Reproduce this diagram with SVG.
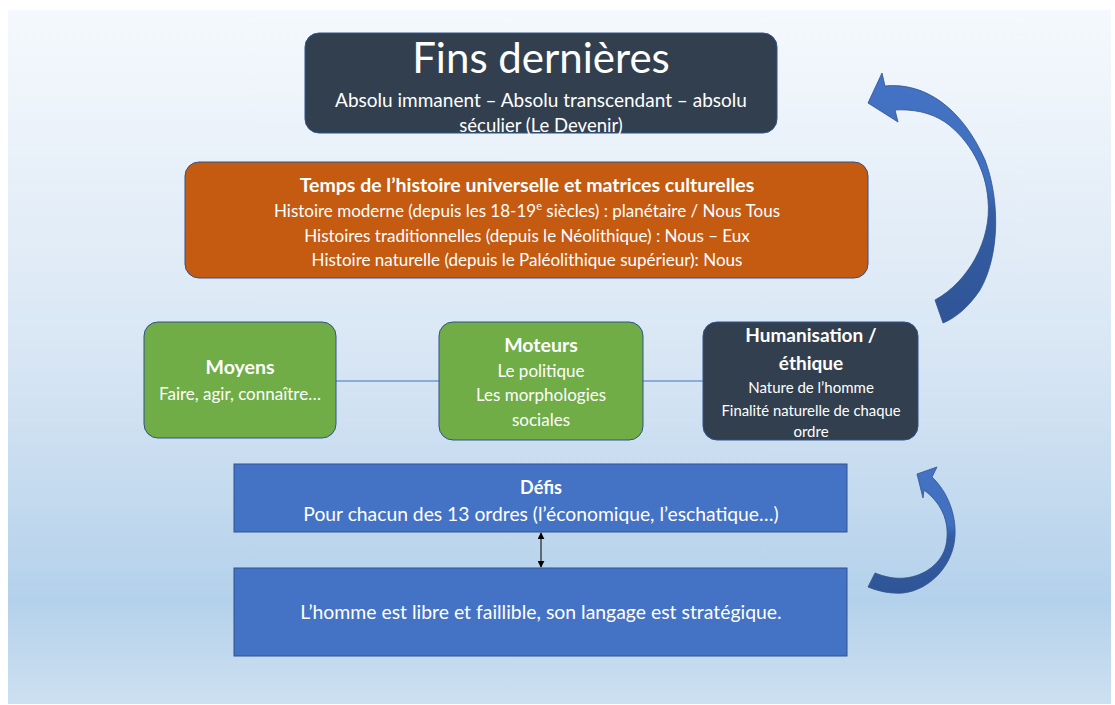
<svg xmlns="http://www.w3.org/2000/svg" width="1115" height="705" viewBox="0 0 1115 705">
<defs>
<linearGradient id="bg" x1="0" y1="0" x2="0" y2="1">
<stop offset="0" stop-color="#f5f9fd"/>
<stop offset="0.5" stop-color="#d8e6f4"/>
<stop offset="0.85" stop-color="#b4d1eb"/>
<stop offset="1" stop-color="#cde0f1"/>
</linearGradient>
<linearGradient id="arr" x1="0" y1="0" x2="0" y2="1">
<stop offset="0" stop-color="#4472c4"/>
<stop offset="0.45" stop-color="#4070c0"/>
<stop offset="0.55" stop-color="#355da3"/>
<stop offset="1" stop-color="#2f5597"/>
</linearGradient>
<marker id="ah" viewBox="0 0 10 10" refX="9" refY="5" markerWidth="7" markerHeight="7" orient="auto-start-reverse" markerUnits="userSpaceOnUse">
<path d="M0,0 L10,5 L0,10 z" fill="#000"/>
</marker>
</defs>
<style>
text{font-family:Lato,"Liberation Sans",sans-serif;fill:#fff;text-anchor:middle}
.b{font-weight:bold}
.dark{fill:#323f4f;stroke:#2f528f;stroke-width:1}
.or{fill:#c55a11;stroke:#2f528f;stroke-width:1}
.gr{fill:#70ad47;stroke:#2f528f;stroke-width:1}
.bl{fill:#4472c4;stroke:#2f528f;stroke-width:1}
.ln{stroke:#4472c4;stroke-width:1.2;fill:none}
.ca{fill:url(#arr);stroke:#2f528f;stroke-width:0.8}
</style>
<rect x="8" y="10" width="1103" height="694" fill="url(#bg)"/>

<g id="connectors">
<line class="ln" x1="336" y1="381" x2="439" y2="381"/>
<line class="ln" x1="643" y1="381" x2="703" y2="381"/>
<line x1="541" y1="533" x2="541" y2="567" stroke="#000" stroke-width="1" marker-start="url(#ah)" marker-end="url(#ah)"/>
<path class="ca" d="M885,86 C925,82 962,108 985,160 C1000,200 1000,255 980,290 C968,308 955,318 943,323 L935,300 C968,282 992,240 988,200 C986,170 970,140 945,122 C930,112 912,109 895,110 L898,122 L868,103 L882,73 Z"/>
<path class="ca" d="M932,477 C948,492 956,515 955,535 C954,565 930,590 903,593 C890,594 878,591 868,587 L875,573 C885,577 895,579 905,578 C925,576 942,563 946,545 C950,525 944,505 924,490 L923,498 L917,474 L937,467 Z"/>
</g>

<g id="fins">
<rect class="dark" x="305" y="33" width="472" height="100" rx="14"/>
<text x="541" y="73" font-size="42">Fins dernières</text>
<text x="541" y="107" font-size="19">Absolu immanent – Absolu transcendant – absolu</text>
<text x="541" y="132" font-size="18.5">séculier (Le Devenir)</text>
</g>

<g id="temps">
<rect class="or" x="185" y="162" width="683" height="116" rx="14"/>
<text class="b" x="527" y="192" font-size="19.5">Temps de l’histoire universelle et matrices culturelles</text>
<text x="527" y="217" font-size="17">Histoire moderne (depuis les 18-19<tspan font-size="11" dy="-7">e</tspan><tspan dy="7"> siècles) : planétaire / Nous Tous</tspan></text>
<text x="527" y="242" font-size="17">Histoires traditionnelles (depuis le Néolithique) : Nous – Eux</text>
<text x="527" y="266" font-size="17">Histoire naturelle (depuis le Paléolithique supérieur): Nous</text>
</g>

<g id="moyens">
<rect class="gr" x="144" y="322" width="192" height="116" rx="14"/>
<text class="b" x="240" y="374" font-size="19.5">Moyens</text>
<text x="240" y="400" font-size="17">Faire, agir, connaître…</text>
</g>

<g id="moteurs">
<rect class="gr" x="439" y="322" width="204" height="118" rx="14"/>
<text class="b" x="541" y="352" font-size="19.5">Moteurs</text>
<text x="541" y="377" font-size="17">Le politique</text>
<text x="541" y="401" font-size="17">Les morphologies</text>
<text x="541" y="426" font-size="17">sociales</text>
</g>

<g id="humanisation">
<rect class="dark" x="703" y="322" width="215" height="118" rx="14"/>
<text class="b" x="811" y="342" font-size="19">Humanisation /</text>
<text class="b" x="811" y="370" font-size="19">éthique</text>
<text x="811" y="393" font-size="15">Nature de l’homme</text>
<text x="811" y="416" font-size="15" textLength="179" lengthAdjust="spacingAndGlyphs">Finalité naturelle de chaque</text>
<text x="811" y="437" font-size="15">ordre</text>
</g>

<g id="defis">
<rect class="bl" x="234" y="464" width="613" height="68"/>
<text class="b" x="541" y="494" font-size="18">Défis</text>
<text x="541" y="521" font-size="19.3">Pour chacun des 13 ordres (l’économique, l’eschatique…)</text>
</g>

<g id="homme">
<rect class="bl" x="234" y="568" width="613" height="88"/>
<text x="541" y="619" font-size="19.4">L’homme est libre et faillible, son langage est stratégique.</text>
</g>
</svg>
